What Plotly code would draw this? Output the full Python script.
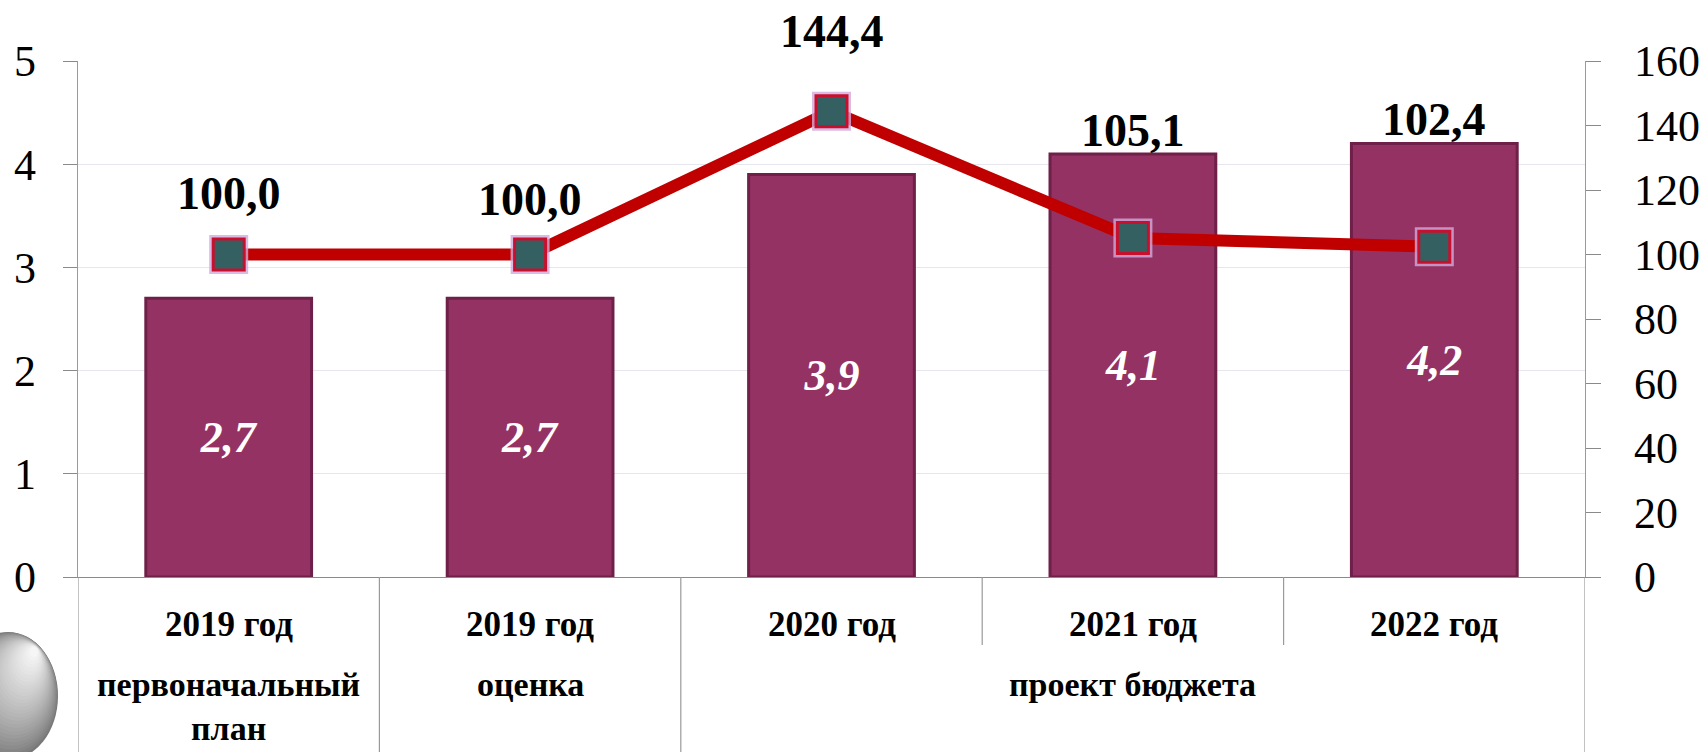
import plotly.graph_objects as go

# values
years = ["2019 год", "2019 год", "2020 год", "2021 год", "2022 год"]
stages = ["первоначальный<br>план", "оценка", "проект бюджета", "проект бюджета", "проект бюджета"]
amounts = [2.7, 2.7, 3.9, 4.1, 4.2]          # left axis, bars
growth = [100.0, 100.0, 144.4, 105.1, 102.4]  # right axis, line

# label placement (px above the marker), hand-tuned like the original slide
label_shift = [61, 55, 80, 108, 127]

SERIF = "Liberation Serif"
W, H = 1700, 752
M_L, M_R, M_T, M_B = 78, 115, 61, 175
PLOT_H = H - M_T - M_B


def ru(v):
    return f"{v:.1f}".replace(".", ",")


idx = list(range(len(years)))

fig = go.Figure()

fig.add_trace(go.Bar(
    x=idx, y=amounts, width=0.55,
    marker=dict(color="#943263", line=dict(color="#6e2049", width=3)),
    text=[ru(v) for v in amounts],
    textposition="inside", insidetextanchor="middle",
    textfont=dict(family=SERIF, size=44, color="white", weight="bold", style="italic"),
    hoverinfo="skip",
))

fig.add_trace(go.Scatter(
    x=idx, y=growth, yaxis="y2", mode="lines",
    line=dict(color="#c00000", width=12), hoverinfo="skip",
))
fig.add_trace(go.Scatter(
    x=idx, y=growth, yaxis="y2", mode="markers",
    marker=dict(symbol="square", size=39, color="rgba(210,170,220,0.8)"),
    hoverinfo="skip",
))
fig.add_trace(go.Scatter(
    x=idx, y=growth, yaxis="y2", mode="markers",
    marker=dict(symbol="square", size=31, color="#356062",
                line=dict(color="#c8102e", width=3)),
    hoverinfo="skip",
))

# numbers above the line
for i, v in enumerate(growth):
    fig.add_annotation(
        x=i, y=v, xref="x", yref="y2", yshift=label_shift[i],
        text=ru(v), showarrow=False,
        font=dict(family=SERIF, size=46, color="black", weight="bold"),
    )

# category area under the axis
for i, yr in enumerate(years):
    fig.add_annotation(
        x=i, y=0, xref="x", yref="paper", yanchor="middle", yshift=-47,
        text=yr, showarrow=False,
        font=dict(family=SERIF, size=35, color="black", weight="bold"),
    )

groups = []
for i, s in enumerate(stages):
    if groups and groups[-1][0] == s:
        groups[-1][2] = i
    else:
        groups.append([s, i, i])
for s, a, b in groups:
    fig.add_annotation(
        x=(a + b) / 2, y=0, xref="x", yref="paper", yanchor="top", yshift=-87,
        text=s, showarrow=False,
        font=dict(family=SERIF, size=34, color="black", weight="bold"),
    )

bottom = -M_B / PLOT_H
short = -(645 - (H - M_B)) / PLOT_H
for k in range(len(years) + 1):
    full = k == 0 or k == len(years) or stages[k] != stages[k - 1]
    fig.add_shape(type="line", xref="x", yref="paper",
                  x0=k - 0.5, x1=k - 0.5, y0=0, y1=bottom if full else short,
                  line=dict(color="#9a9a9a", width=1.2))

# grey ball decoration in the lower-left corner (radial gradient by layers)
def px_x(p):
    return (p - M_L) / (W - M_L - M_R)


def px_y(p):
    return (H - M_B - p) / PLOT_H


n = 30
cx0, cy0, rx0, ry0 = 8, 696, 50, 64
hx, hy = 34, 652
for i in range(n):
    t = i / (n - 1)
    cx = cx0 + t * (hx - cx0)
    cy = cy0 + t * (hy - cy0)
    rx = rx0 * (1 - 0.92 * t)
    ry = ry0 * (1 - 0.92 * t)
    g = int(120 + (t ** 0.8) * (246 - 120))
    fig.add_shape(type="circle", xref="paper", yref="paper",
                  x0=px_x(cx - rx), x1=px_x(cx + rx),
                  y0=px_y(cy + ry), y1=px_y(cy - ry),
                  fillcolor=f"rgb({g},{g},{g})", line=dict(width=0), layer="below")

fig.update_layout(
    width=W, height=H,
    margin=dict(l=M_L, r=M_R, t=M_T, b=M_B, autoexpand=False),
    paper_bgcolor="white", plot_bgcolor="white",
    showlegend=False, bargap=0.45,
    xaxis=dict(range=[-0.5, len(years) - 0.5], showticklabels=False, ticks="",
               showgrid=False, zeroline=False, showline=True,
               linecolor="#8a8a8a", linewidth=1.2),
    yaxis=dict(range=[0, 5], dtick=1, ticks="outside", ticklen=14,
               tickcolor="#8a8a8a", showline=True, linecolor="#9a9a9a",
               linewidth=1.2, gridcolor="#e6e6ee", zeroline=False,
               ticklabelstandoff=18,
               tickfont=dict(family=SERIF, size=44, color="black")),
    yaxis2=dict(range=[0, 160], dtick=20, overlaying="y", side="right",
                ticks="outside", ticklen=15, tickcolor="#8a8a8a",
                showline=True, linecolor="#9a9a9a", linewidth=1.2,
                showgrid=False, zeroline=False, ticklabelstandoff=24,
                tickfont=dict(family=SERIF, size=44, color="black")),
)

fig.write_html("out.html", config={"displayModeBar": False},
               post_script="document.body.style.margin='0';")
